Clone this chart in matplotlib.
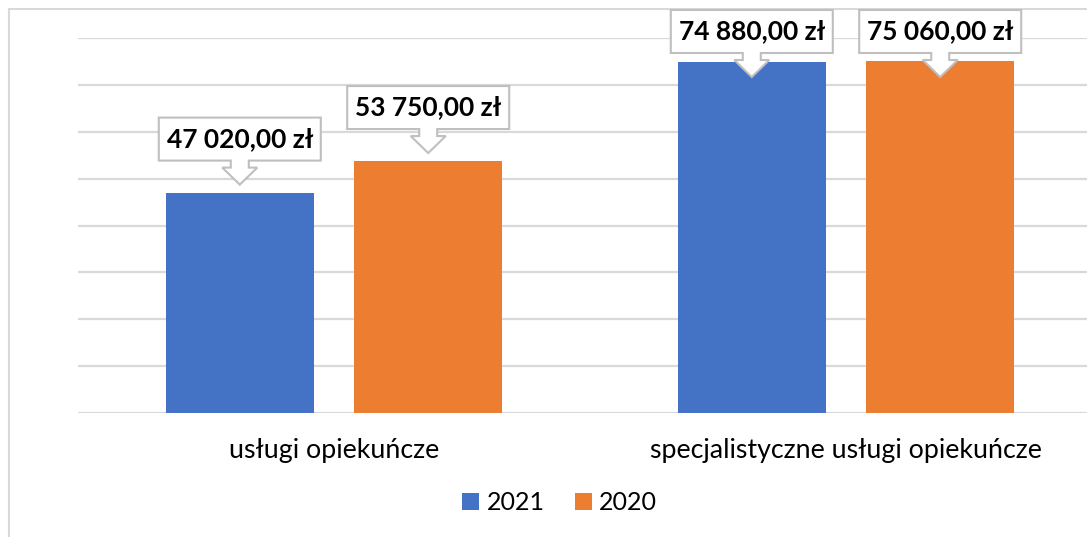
import matplotlib
matplotlib.use("Agg")
import matplotlib.pyplot as plt
from matplotlib.patches import Polygon, Rectangle, Patch
from matplotlib.transforms import IdentityTransform
import numpy as np

plt.rcParams["font.family"] = ["Lato", "DejaVu Sans"]

# ── dane ──
categories = ["usługi opiekuńcze", "specjalistyczne usługi opiekuńcze"]
series_names = ["2021", "2020"]
values_2021 = [47020, 74880]
values_2020 = [53750, 75060]

C_BLUE = "#4472C4"
C_ORANGE = "#ED7D31"
C_GRID = "#D9D9D9"
C_CALLOUT = "#BFBFBF"

W, H = 1087, 537
fig = plt.figure(figsize=(W / 100, H / 100), dpi=100, facecolor="white")
ax = fig.add_axes([78 / W, (H - 413) / H, 1024 / W, 375 / H])

x = np.arange(len(categories))
w = 0.289
off = 0.184
ax.bar(x - off, values_2021, w, color=C_BLUE, zorder=3)
ax.bar(x + off, values_2020, w, color=C_ORANGE, zorder=3)

ax.set_xlim(-0.5, 1.5)
ax.set_ylim(0, 80000)
ax.set_yticks(np.arange(0, 80001, 10000))
ax.yaxis.grid(True, color=C_GRID, linewidth=1.6, zorder=0)
ax.tick_params(axis="y", left=False, labelleft=False)
for s in ax.spines.values():
    s.set_visible(False)
ax.set_xticks(x)
ax.set_xticklabels(categories, fontsize=19.3, color="#000000")
ax.tick_params(axis="x", length=0, pad=18)

# ramka wykresu
fig.add_artist(Rectangle((9 / W, -0.1), 1.2, (H - 9) / H + 0.1,
                         transform=fig.transFigure, fill=False,
                         edgecolor=C_GRID, linewidth=1.5))


def fmt(v):
    return f"{v:,.2f}".replace(",", " ").replace(".", ",") + " zł"


# etykiety danych (dymki ze strzałką)
for xs, vals in [(x - off, values_2021), (x + off, values_2020)]:
    for xi, v in zip(xs, vals):
        cx, top_disp = ax.transData.transform((xi, v))
        bar_top = H - top_disp
        bottom = bar_top - 32
        top = bottom - 43
        if top < 10:
            top = 10
            bottom = top + 43
        tip = bottom + 24
        pts_img = [
            (cx - 81, top), (cx + 81, top), (cx + 81, bottom),
            (cx + 9, bottom), (cx + 9, bottom + 7), (cx + 17.5, bottom + 7),
            (cx, tip), (cx - 17.5, bottom + 7), (cx - 9, bottom + 7),
            (cx - 9, bottom), (cx - 81, bottom),
        ]
        pts = [(px, H - py) for px, py in pts_img]
        fig.add_artist(Polygon(pts, closed=True, facecolor="white",
                               edgecolor=C_CALLOUT, linewidth=1.5,
                               transform=IdentityTransform(), zorder=5))
        fig.text(cx, H - (top + bottom) / 2, fmt(v), transform=IdentityTransform(),
                 ha="center", va="center", fontsize=19, fontweight="bold",
                 color="#000000", zorder=6)

handles = [Patch(facecolor=C_BLUE), Patch(facecolor=C_ORANGE)]
fig.legend(handles, series_names, loc="center", bbox_to_anchor=(559.5 / W, (H - 503) / H),
           ncol=2, frameon=False, fontsize=18, handlelength=0.68, handleheight=0.68,
           handletextpad=0.3, columnspacing=1.2)

fig.savefig("out.png", dpi=100)
